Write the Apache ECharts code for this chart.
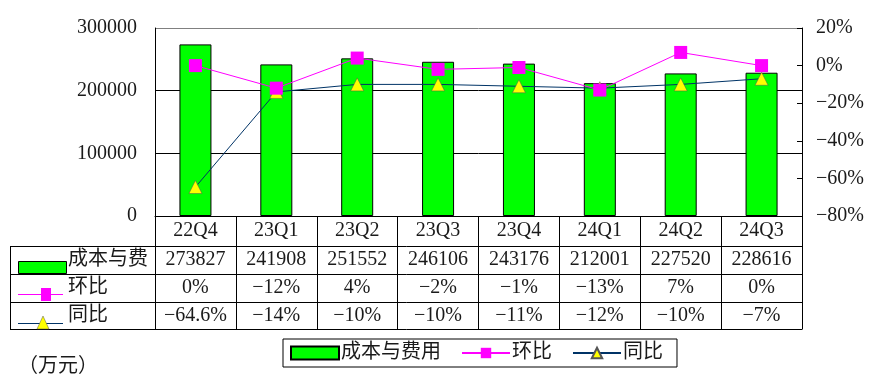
<!DOCTYPE html>
<html>
<head>
<meta charset="utf-8">
<script src="https://cdn.jsdelivr.net/npm/echarts@6/dist/echarts.min.js"></script>
<style>
html,body{margin:0;padding:0;background:#fff;}
#chart{width:871px;height:389px;}
</style>
</head>
<body>
<div id="chart"></div>
<script>
// ---- data ----
const categories = ['22Q4', '23Q1', '23Q2', '23Q3', '23Q4', '24Q1', '24Q2', '24Q3'];
const costValues = [273827, 241908, 251552, 246106, 243176, 212001, 227520, 228616];
const qoqValues = [0, -12, 4, -2, -1, -13, 7, 0];
const yoyValues = [-64.6, -14, -10, -10, -11, -12, -10, -7];
const seriesNames = ['成本与费用', '环比', '同比'];
const rowLabels = ['成本与费', '环比', '同比'];
const unitLabel = '（万元）';

// ---- style ----
const FONT = '"Liberation Serif", "Noto Sans CJK SC", serif';
const TXT = '#1a1a1a';
const GREEN = '#00FF00';
const MAGENTA = '#FF00FF';
const NAVY = '#003366';
const YELLOW = '#FFFF00';
const G = { left: 155, right: 802, top: 28, bottom: 216 };
const T = { left: 10, rows: [246, 274, 302, 329] };

function pct(v) {
  return (v < 0 ? '\u2212' + Math.abs(v) : String(v)) + '%';
}

const chart = echarts.init(document.getElementById('chart'), null, { renderer: 'canvas' });

const rowAxis = (offset, fmt) => ({
  type: 'category',
  data: categories,
  position: 'bottom',
  offset: offset,
  axisLine: { show: false },
  axisTick: { show: false },
  axisLabel: { interval: 0, margin: 4, fontSize: 20, fontFamily: FONT, color: TXT, formatter: fmt }
});

const graphics = [];
// table horizontal borders
T.rows.forEach(y => {
  graphics.push({ type: 'line', silent: true, shape: { x1: T.left, y1: y + 0.5, x2: G.right + 0.5, y2: y + 0.5 }, style: { stroke: '#000', lineWidth: 1 } });
});
graphics.push({ type: 'line', silent: true, shape: { x1: T.left + 0.5, y1: T.rows[0], x2: T.left + 0.5, y2: T.rows[3] + 1 }, style: { stroke: '#000', lineWidth: 1 } });
// row keys
graphics.push({ type: 'rect', silent: true, shape: { x: 18.5, y: 261.5, width: 48, height: 12 }, style: { fill: GREEN, stroke: '#000', lineWidth: 1 } });
graphics.push({ type: 'line', silent: true, shape: { x1: 18, y1: 294.5, x2: 63, y2: 294.5 }, style: { stroke: MAGENTA, lineWidth: 1 } });
graphics.push({ type: 'rect', silent: true, shape: { x: 41, y: 288, width: 10, height: 13 }, style: { fill: MAGENTA } });
graphics.push({ type: 'line', silent: true, shape: { x1: 18, y1: 323.5, x2: 63, y2: 323.5 }, style: { stroke: NAVY, lineWidth: 1 } });
graphics.push({ type: 'polygon', silent: true, shape: { points: [[43, 316], [37, 329], [49, 329]] }, style: { fill: YELLOW, stroke: '#555', lineWidth: 0.5 } });
const rowCenters = [260, 288, 316];
rowLabels.forEach((t, i) => {
  graphics.push({ type: 'text', silent: true, x: 68, y: rowCenters[i], style: { text: t, fontSize: 20, fontFamily: FONT, fill: TXT, verticalAlign: 'middle', align: 'left' } });
});
graphics.push({ type: 'text', silent: true, x: 18, y: 367, style: { text: unitLabel, fontSize: 20, fontFamily: FONT, fill: TXT, verticalAlign: 'middle', align: 'left' } });

const option = {
  animation: false,
  backgroundColor: '#fff',
  grid: { left: G.left, right: 871 - G.right, top: G.top, bottom: 389 - G.bottom, containLabel: false },
  legend: {
    left: 283, top: 339,
    orient: 'horizontal',
    borderColor: '#000', borderWidth: 1,
    padding: [4, 14, 4, 7],
    itemGap: 20,
    itemWidth: 48, itemHeight: 13,
    textStyle: { fontSize: 20, fontFamily: FONT, color: TXT, padding: [0, 0, 0, -3] },
    data: [{ name: seriesNames[0], icon: 'rect' }, { name: seriesNames[1] }, { name: seriesNames[2] }]
  },
  xAxis: [
    {
      type: 'category',
      data: categories,
      position: 'bottom',
      axisLine: { lineStyle: { color: '#000', width: 1 } },
      axisTick: { show: true, length: 113, lineStyle: { color: '#000', width: 1 } },
      axisLabel: { interval: 0, margin: 5, fontSize: 20, fontFamily: FONT, color: TXT },
      splitLine: { show: false }
    },
    rowAxis(30, (v, i) => String(costValues[i])),
    rowAxis(58, (v, i) => pct(qoqValues[i])),
    rowAxis(86, (v, i) => pct(yoyValues[i]))
  ],
  yAxis: [
    {
      type: 'value', min: 0, max: 300000, interval: 100000, position: 'left',
      axisLine: { show: true, lineStyle: { color: '#000' } },
      axisTick: { show: false },
      axisLabel: { margin: 18, fontSize: 20, fontFamily: FONT, color: TXT, formatter: v => String(v) },
      splitLine: { show: true, lineStyle: { color: ['#000', '#000', '#000', '#808080'], width: 1 } }
    },
    {
      type: 'value', min: -80, max: 20, interval: 20, position: 'right',
      axisLine: { show: true, lineStyle: { color: '#000' } },
      axisTick: { show: true, inside: true, length: 5, lineStyle: { color: '#000' } },
      axisLabel: { margin: 14, fontSize: 20, fontFamily: FONT, color: TXT, formatter: v => pct(v) },
      splitLine: { show: false }
    }
  ],
  series: [
    {
      name: seriesNames[0], type: 'bar', xAxisIndex: 0, yAxisIndex: 0,
      data: costValues, barWidth: 32,
      itemStyle: { color: GREEN, borderColor: '#000', borderWidth: 1 },
      z: 2
    },
    {
      name: seriesNames[1], type: 'line', xAxisIndex: 0, yAxisIndex: 1,
      data: qoqValues, symbol: 'rect', symbolSize: 13,
      lineStyle: { color: MAGENTA, width: 1 },
      itemStyle: { color: MAGENTA },
      z: 4
    },
    {
      name: seriesNames[2], type: 'line', xAxisIndex: 0, yAxisIndex: 1,
      data: yoyValues, symbol: 'triangle', symbolSize: [13, 13],
      lineStyle: { color: NAVY, width: 1 },
      itemStyle: { color: YELLOW, borderColor: '#555', borderWidth: 0.5 },
      z: 3
    }
  ],
  graphic: graphics
};
chart.setOption(option);
</script>
</body>
</html>
